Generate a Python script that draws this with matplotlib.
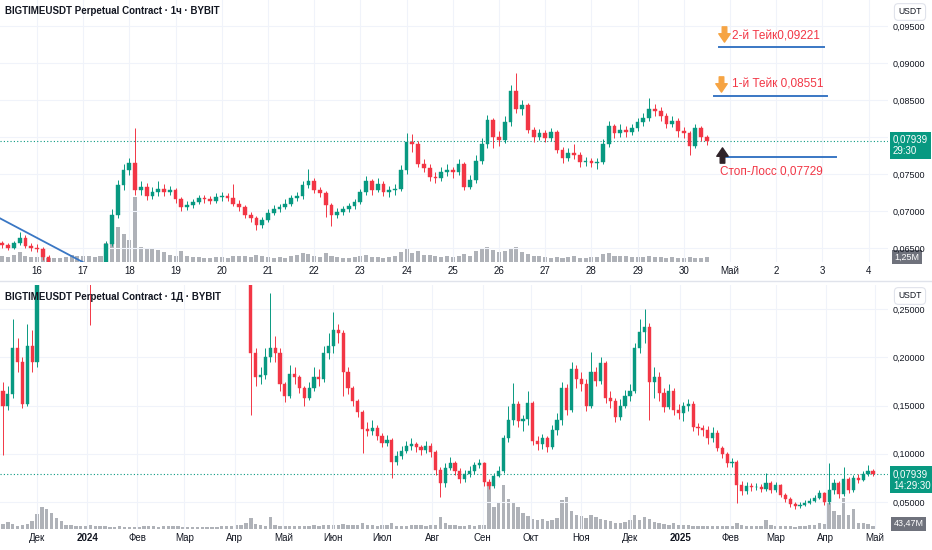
import numpy as np
import matplotlib
matplotlib.use("Agg")
import matplotlib.pyplot as plt
from matplotlib.lines import Line2D
from matplotlib.path import Path

plt.rcParams['font.family'] = ['Liberation Sans', 'DejaVu Sans']

# ---- 1h chart (drawn as 3h candles), 15 Apr 06:00 .. 30 Apr 12:00 ----
top_open0 = 0.0656
top_close = [
    0.0654, 0.0650, 0.0656, 0.0664, 0.0653, 0.0650,
    0.0648, 0.0638, 0.0624, 0.0620, 0.0617, 0.0615, 0.0618, 0.0616,
    0.0614, 0.0617, 0.0619, 0.0622, 0.0655, 0.0695, 0.0735, 0.0755,
    0.0765, 0.0728, 0.0732, 0.0720, 0.0725, 0.0730, 0.0726, 0.0728,
    0.0716, 0.0705, 0.0708, 0.0712, 0.0717, 0.0716, 0.0714, 0.0719,
    0.0720, 0.0718, 0.0710, 0.0705, 0.0695, 0.0690, 0.0681, 0.0688,
    0.0697, 0.0702, 0.0705, 0.0710, 0.0718, 0.0720, 0.0735, 0.0740,
    0.0728, 0.0724, 0.0708, 0.0695, 0.0699, 0.0703, 0.0707, 0.0712,
    0.0725, 0.0740, 0.0728, 0.0737, 0.0726, 0.0728, 0.0730, 0.0755,
    0.0793, 0.0790, 0.0764, 0.0758, 0.0746, 0.0745, 0.0752, 0.0755,
    0.0752, 0.0763, 0.0733, 0.0742, 0.0768, 0.0790, 0.0823, 0.0800,
    0.0796, 0.0820, 0.0862, 0.0838, 0.0843, 0.0810, 0.0800, 0.0805,
    0.0798, 0.0806, 0.0783, 0.0772, 0.0778, 0.0775, 0.0766, 0.0768,
    0.0765, 0.0766, 0.0790, 0.0815, 0.0805, 0.0810, 0.0806, 0.0812,
    0.0820, 0.0825, 0.0838, 0.0835, 0.0828, 0.0818, 0.0822, 0.0808,
    0.0805, 0.0788, 0.0812, 0.0800, 0.07939,
]
top_high = [
    0.0660, 0.0657, 0.0659, 0.0672, 0.0667, 0.0656,
    0.0655, 0.0651, 0.0640, 0.0627, 0.0623, 0.0620, 0.0621, 0.0620,
    0.0619, 0.0620, 0.0622, 0.0626, 0.0660, 0.0702, 0.0742, 0.0764,
    0.0772, 0.0812, 0.0740, 0.0738, 0.0733, 0.0740, 0.0737, 0.0734,
    0.0731, 0.0719, 0.0713, 0.0716, 0.0722, 0.0721, 0.0720, 0.0724,
    0.0726, 0.0724, 0.0737, 0.0715, 0.0708, 0.0699, 0.0693, 0.0692,
    0.0703, 0.0708, 0.0710, 0.0716, 0.0722, 0.0726, 0.0741, 0.0756,
    0.0744, 0.0733, 0.0727, 0.0711, 0.0704, 0.0707, 0.0711, 0.0716,
    0.0730, 0.0747, 0.0743, 0.0744, 0.0741, 0.0734, 0.0736, 0.0762,
    0.0805, 0.0804, 0.0795, 0.0770, 0.0764, 0.0752, 0.0760, 0.0764,
    0.0760, 0.0770, 0.0766, 0.0748, 0.0775, 0.0798, 0.0830, 0.0826,
    0.0808, 0.0828, 0.0870, 0.0886, 0.0850, 0.0846, 0.0814, 0.0811,
    0.0809, 0.0812, 0.0810, 0.0787, 0.0785, 0.0790, 0.0779, 0.0773,
    0.0772, 0.0772, 0.0797, 0.0822, 0.0818, 0.0817, 0.0815, 0.0818,
    0.0826, 0.0832, 0.0853, 0.0845, 0.0840, 0.0832, 0.0828, 0.0825,
    0.0813, 0.0808, 0.0817, 0.0815, 0.0803,
]
top_low = [
    0.0650, 0.0647, 0.0648, 0.0654, 0.0650, 0.0646,
    0.0644, 0.0634, 0.0620, 0.0617, 0.0614, 0.0612, 0.0613, 0.0613,
    0.0611, 0.0612, 0.0615, 0.0617, 0.0620, 0.0652, 0.0690, 0.0728,
    0.0748, 0.0722, 0.0722, 0.0715, 0.0716, 0.0720, 0.0720, 0.0722,
    0.0711, 0.0700, 0.0701, 0.0704, 0.0709, 0.0711, 0.0709, 0.0711,
    0.0714, 0.0713, 0.0706, 0.0700, 0.0690, 0.0685, 0.0674, 0.0677,
    0.0685, 0.0694, 0.0698, 0.0702, 0.0707, 0.0714, 0.0716, 0.0731,
    0.0724, 0.0719, 0.0692, 0.0679, 0.0690, 0.0695, 0.0699, 0.0703,
    0.0709, 0.0721, 0.0722, 0.0725, 0.0720, 0.0719, 0.0722, 0.0727,
    0.0750, 0.0780, 0.0760, 0.0752, 0.0741, 0.0738, 0.0741, 0.0747,
    0.0745, 0.0748, 0.0728, 0.0729, 0.0738, 0.0763, 0.0785, 0.0785,
    0.0788, 0.0792, 0.0815, 0.0832, 0.0830, 0.0805, 0.0793, 0.0796,
    0.0793, 0.0795, 0.0778, 0.0765, 0.0768, 0.0770, 0.0760, 0.0761,
    0.0760, 0.0757, 0.0763, 0.0786, 0.0798, 0.0800, 0.0800, 0.0802,
    0.0808, 0.0815, 0.0822, 0.0828, 0.0822, 0.0812, 0.0814, 0.0800,
    0.0798, 0.0776, 0.0785, 0.0795, 0.0789,
]
top_vol = [
    1.5, 1.2, 1.8, 2.5, 1.6, 1.3,
    1.2, 1.5, 1.0, 0.9, 1.1, 1.2, 1.8, 1.6,
    1.5, 1.4, 1.3, 1.6, 4.7, 9.0, 8.5, 7.0,
    5.5, 16.0, 3.8, 3.5, 3.2, 3.0, 2.4, 1.8,
    1.4, 2.8, 1.5, 1.3, 1.2, 1.0, 1.1, 1.3,
    1.2, 1.0, 1.6, 1.4, 1.5, 1.2, 1.8, 1.4,
    1.2, 1.0, 1.3, 1.1, 1.5, 1.7, 2.2, 2.0,
    1.6, 1.3, 2.3, 1.6, 1.2, 1.1, 1.0, 1.2,
    1.6, 1.8, 1.3, 1.2, 1.0, 1.2, 1.6, 2.4,
    3.2, 2.3, 2.6, 1.8, 1.7, 1.4, 1.3, 1.5,
    1.3, 1.6, 1.9, 1.4, 2.6, 3.3, 3.8, 3.0,
    2.4, 2.8, 3.4, 3.6, 2.4, 2.0, 1.6, 1.4,
    1.2, 1.0, 1.3, 1.1, 1.2, 1.4, 1.0, 1.1,
    1.2, 1.3, 2.0, 2.2, 1.6, 1.4, 1.5, 1.3,
    1.3, 1.2, 1.5, 1.3, 1.2, 1.1, 1.2, 1.1,
    1.0, 1.2, 1.1, 1.0, 1.25,
]
top_day_ticks = list(range(16, 35))
top_day_labels = [str(d) for d in range(16, 31)] + ['Май', '2', '3', '4']

# trade levels and a trendline drawn on the 1h chart
take2, take1, stop = 0.09221, 0.08551, 0.07729
trend_x = [15.2, 17.2]
trend_y = [0.0690, 0.0624]

# ---- 1D chart (drawn as 3-day candles), Nov 2023 .. 30 Apr 2025 ----
bot_open0 = 0.165
bot_close = [
    0.150, 0.162, 0.210, 0.195, 0.152, 0.212, 0.195, 0.300, 0.40, 0.55,
    0.70, 0.75, 0.65, 0.58, 0.52, 0.50, 0.46, 0.42, 0.38, 0.40,
    0.42, 0.44, 0.40, 0.38, 0.36, 0.35, 0.33, 0.34, 0.36, 0.35,
    0.33, 0.34, 0.37, 0.40, 0.42, 0.45, 0.48, 0.46, 0.44, 0.40,
    0.38, 0.36, 0.37, 0.35, 0.33, 0.34, 0.32, 0.31, 0.30, 0.30,
    0.29, 0.205, 0.180, 0.182, 0.200, 0.210, 0.205, 0.172, 0.160, 0.183,
    0.180, 0.168, 0.158, 0.168, 0.180, 0.178, 0.205, 0.212, 0.228, 0.225,
    0.185, 0.168, 0.155, 0.143, 0.126, 0.124, 0.127, 0.118, 0.111, 0.114,
    0.092, 0.098, 0.103, 0.108, 0.110, 0.107, 0.104, 0.108, 0.102, 0.083,
    0.070, 0.085, 0.090, 0.082, 0.074, 0.079, 0.082, 0.088, 0.090, 0.071,
    0.067, 0.077, 0.082, 0.116, 0.135, 0.152, 0.134, 0.136, 0.153, 0.113,
    0.110, 0.116, 0.107, 0.125, 0.135, 0.168, 0.145, 0.188, 0.178, 0.172,
    0.150, 0.185, 0.176, 0.194, 0.158, 0.155, 0.138, 0.150, 0.160, 0.165,
    0.210, 0.226, 0.232, 0.175, 0.180, 0.163, 0.149, 0.165, 0.145, 0.142,
    0.150, 0.152, 0.128, 0.127, 0.125, 0.116, 0.122, 0.106, 0.100, 0.090,
    0.092, 0.068, 0.061, 0.067, 0.066, 0.066, 0.064, 0.070, 0.062, 0.068,
    0.057, 0.053, 0.048, 0.046, 0.047, 0.049, 0.051, 0.054, 0.059, 0.050,
    0.062, 0.070, 0.058, 0.074, 0.062, 0.075, 0.073, 0.079, 0.082, 0.07939,
]
bot_high = [
    0.175, 0.170, 0.240, 0.220, 0.200, 0.235, 0.228, 0.32, 0.58, 0.72,
    0.82, 0.85, 0.76, 0.66, 0.60, 0.55, 0.52, 0.48, 0.44, 0.45,
    0.46, 0.48, 0.46, 0.42, 0.40, 0.38, 0.37, 0.37, 0.39, 0.39,
    0.37, 0.37, 0.40, 0.43, 0.46, 0.49, 0.52, 0.51, 0.48, 0.45,
    0.42, 0.40, 0.40, 0.39, 0.37, 0.37, 0.36, 0.34, 0.33, 0.32,
    0.31, 0.30, 0.21, 0.19, 0.21, 0.267, 0.222, 0.210, 0.175, 0.192,
    0.190, 0.182, 0.170, 0.175, 0.190, 0.188, 0.212, 0.225, 0.247, 0.235,
    0.228, 0.190, 0.170, 0.157, 0.145, 0.133, 0.135, 0.130, 0.122, 0.120,
    0.116, 0.103, 0.108, 0.113, 0.116, 0.112, 0.109, 0.113, 0.111, 0.104,
    0.086, 0.090, 0.097, 0.093, 0.085, 0.083, 0.087, 0.092, 0.095, 0.091,
    0.074, 0.080, 0.087, 0.120, 0.150, 0.173, 0.155, 0.140, 0.165, 0.155,
    0.118, 0.121, 0.118, 0.130, 0.142, 0.175, 0.172, 0.195, 0.192, 0.185,
    0.178, 0.206, 0.190, 0.200, 0.196, 0.165, 0.158, 0.157, 0.166, 0.172,
    0.215, 0.240, 0.250, 0.236, 0.190, 0.185, 0.168, 0.172, 0.168, 0.152,
    0.154, 0.157, 0.155, 0.132, 0.130, 0.129, 0.128, 0.125, 0.108, 0.102,
    0.096, 0.094, 0.072, 0.071, 0.070, 0.070, 0.069, 0.080, 0.072, 0.071,
    0.069, 0.059, 0.055, 0.050, 0.050, 0.052, 0.054, 0.057, 0.062, 0.060,
    0.090, 0.074, 0.072, 0.086, 0.076, 0.078, 0.079, 0.082, 0.088, 0.084,
]
bot_low = [
    0.099, 0.145, 0.158, 0.185, 0.148, 0.150, 0.185, 0.19, 0.30, 0.40,
    0.55, 0.62, 0.58, 0.50, 0.46, 0.44, 0.40, 0.36, 0.234, 0.36,
    0.38, 0.39, 0.36, 0.34, 0.33, 0.32, 0.30, 0.31, 0.32, 0.31,
    0.30, 0.31, 0.33, 0.36, 0.39, 0.41, 0.43, 0.42, 0.39, 0.36,
    0.34, 0.33, 0.34, 0.32, 0.30, 0.31, 0.29, 0.29, 0.285, 0.285,
    0.28, 0.140, 0.170, 0.172, 0.178, 0.195, 0.195, 0.165, 0.154, 0.158,
    0.172, 0.163, 0.150, 0.156, 0.165, 0.170, 0.175, 0.198, 0.205, 0.215,
    0.160, 0.162, 0.150, 0.138, 0.101, 0.118, 0.120, 0.114, 0.107, 0.108,
    0.075, 0.088, 0.095, 0.101, 0.104, 0.102, 0.099, 0.101, 0.097, 0.078,
    0.055, 0.066, 0.083, 0.078, 0.070, 0.071, 0.076, 0.079, 0.085, 0.067,
    0.064, 0.065, 0.076, 0.080, 0.112, 0.130, 0.128, 0.124, 0.130, 0.109,
    0.104, 0.105, 0.102, 0.105, 0.119, 0.130, 0.140, 0.143, 0.168, 0.165,
    0.144, 0.148, 0.170, 0.172, 0.153, 0.148, 0.133, 0.135, 0.147, 0.155,
    0.163, 0.205, 0.215, 0.135, 0.158, 0.155, 0.143, 0.146, 0.140, 0.136,
    0.134, 0.144, 0.124, 0.120, 0.118, 0.110, 0.112, 0.103, 0.096, 0.086,
    0.086, 0.049, 0.057, 0.058, 0.061, 0.062, 0.060, 0.061, 0.059, 0.060,
    0.055, 0.050, 0.045, 0.043, 0.044, 0.046, 0.048, 0.050, 0.053, 0.047,
    0.048, 0.058, 0.054, 0.056, 0.059, 0.060, 0.070, 0.072, 0.077, 0.077,
]
bot_vol = [
    70, 100, 70, 45, 55, 70, 110, 210, 300, 280,
    220, 150, 110, 60, 50, 45, 40, 40, 55, 45,
    40, 35, 30, 30, 35, 25, 25, 30, 25, 45,
    40, 35, 30, 35, 45, 40, 35, 30, 30, 28,
    25, 28, 30, 30, 28, 35, 40, 45, 50, 60,
    90, 150, 70, 50, 40, 170, 50, 40, 45, 35,
    40, 35, 45, 40, 50, 45, 50, 55, 60, 50,
    70, 55, 60, 50, 80, 55, 50, 45, 60, 50,
    80, 45, 40, 45, 50, 55, 50, 45, 60, 55,
    170, 80, 60, 50, 45, 40, 50, 45, 55, 60,
    640, 300, 380, 620, 420, 380, 300, 220, 180, 140,
    120, 140, 110, 130, 160, 400, 450, 250, 200, 180,
    150, 200, 170, 140, 120, 110, 90, 80, 100, 120,
    200, 130, 170, 140, 100, 80, 70, 60, 80, 60,
    50, 55, 45, 40, 45, 40, 35, 35, 40, 40,
    45, 80, 50, 40, 45, 40, 35, 120, 50, 40,
    35, 40, 35, 30, 40, 45, 50, 60, 80, 70,
    360, 250, 200, 430, 200, 280, 90, 80, 70, 43.47,
]
# days counted from 1 Dec 2023
bot_month_ticks = [0, 31, 62, 91, 122, 152, 183, 213, 244, 275, 305, 336,
                   366, 397, 428, 456, 487, 517]
bot_month_labels = ['Дек', '2024', 'Фев', 'Мар', 'Апр', 'Май', 'Июн', 'Июл',
                    'Авг', 'Сен', 'Окт', 'Ноя', 'Дек', '2025', 'Фев', 'Мар',
                    'Апр', 'Май']

last_price = 0.07939

GREEN = '#089981'
RED = '#f23645'
TXT = '#131722'
GRID = '#f0f3fa'
VOLC = '#9598a1'

W, H = 932, 550


def fx(px):
    return px / W


def fy(py):
    return 1 - py / H


def price_fmt(v):
    return f"{v:.5f}".replace('.', ',')


def draw_candles(ax, x, o, hi, lo, c, w):
    cols = np.where(c >= o, GREEN, RED)
    ax.vlines(x, lo, hi, colors=cols, lw=0.7, zorder=3)
    ax.bar(x, np.abs(c - o), width=w, bottom=np.minimum(o, c), color=cols,
           edgecolor=cols, lw=0.3, zorder=4)


def style_axes(ax):
    for s in ax.spines.values():
        s.set_visible(False)
    ax.yaxis.tick_right()
    ax.tick_params(axis='y', length=0, pad=3.5, labelsize=6.5, labelcolor=TXT)
    ax.tick_params(axis='x', length=0, pad=3, labelsize=7, labelcolor=TXT)
    ax.grid(True, color=GRID, lw=0.8)
    ax.set_axisbelow(True)
    ax.patch.set_visible(False)


fig = plt.figure(figsize=(W / 100, H / 100), dpi=100)
fig.patch.set_facecolor('white')

# ================= top panel =================
rect_top = [0, fy(262), fx(888), 262 / H]
vax1 = fig.add_axes(rect_top)
ax1 = fig.add_axes(rect_top)

tc = np.array(top_close)
to = np.concatenate([[top_open0], tc[:-1]])
tx = 15.25 + 0.125 * np.arange(len(tc))

vax1.bar(tx, top_vol, width=0.125 * 0.7, color=VOLC, alpha=0.75)
vax1.set_xlim(15.2, 34.42)
vax1.set_ylim(0, 64.5)
vax1.axis('off')

draw_candles(ax1, tx, to, np.array(top_high), np.array(top_low), tc, 0.125 * 0.65)
ax1.set_xlim(15.2, 34.42)
ax1.set_ylim(0.0631, 0.0985)
style_axes(ax1)
yt = np.arange(0.065, 0.0951, 0.005)
ax1.set_yticks(yt)
# the 0,08000 label sits under the live price tag
ax1.set_yticklabels(['' if abs(v - 0.08) < 1e-9 else price_fmt(v) for v in yt])
ax1.set_xticks(top_day_ticks)
ax1.set_xticklabels(top_day_labels)

ax1.plot(trend_x, trend_y, color='#3a77c4', lw=1.3, zorder=5)
ax1.axhline(last_price, color=GREEN, lw=0.8, ls=(0, (1, 2)), zorder=2)

# trade levels
lvl_col = '#3a77c4'
ax1.plot([30.77, 33.04], [take2, take2], color=lvl_col, lw=1.4, zorder=5)
ax1.plot([30.65, 33.10], [take1, take1], color=lvl_col, lw=1.4, zorder=5)
ax1.plot([30.90, 33.29], [stop, stop], color=lvl_col, lw=1.4, zorder=5)

down_arrow = Path([(-0.3, 1), (0.3, 1), (0.3, 0.1), (0.75, 0.1), (0, -1),
                   (-0.75, 0.1), (-0.3, 0.1), (-0.3, 1)], closed=True)
up_arrow = Path([(-0.3, -1), (0.3, -1), (0.3, -0.1), (0.75, -0.1), (0, 1),
                 (-0.75, -0.1), (-0.3, -0.1), (-0.3, -1)], closed=True)
ax1.plot([30.87], [take2 + 0.0017], marker=down_arrow, ms=11, color='#f6a443',
         mec='#f6a443', zorder=6, clip_on=False)
ax1.plot([30.81], [take1 + 0.0016], marker=down_arrow, ms=11, color='#f6a443',
         mec='#f6a443', zorder=6, clip_on=False)
ax1.plot([30.82], [stop + 0.0003], marker=up_arrow, ms=11, color='#2e2228',
         mec='#2e2228', zorder=6, clip_on=False)

ax1.text(31.04, take2 + 0.0013, '2-й Тейк' + price_fmt(take2), color=RED,
         fontsize=8.5, va='center', ha='left', zorder=6)
ax1.text(31.04, take1 + 0.0016, '1-й Тейк ' + price_fmt(take1), color=RED,
         fontsize=8.5, va='center', ha='left', zorder=6)
ax1.text(30.78, stop - 0.0020, 'Стоп-Лосс ' + price_fmt(stop), color=RED,
         fontsize=8.5, va='center', ha='left', zorder=6)

ax1.annotate(price_fmt(last_price) + '\n29:30', xy=(1, last_price),
             xycoords=ax1.get_yaxis_transform(), xytext=(3.6, -2.8),
             textcoords='offset points', ha='left', va='center', fontsize=7,
             color='white', linespacing=1.15, annotation_clip=False, zorder=10,
             bbox=dict(boxstyle='square,pad=0.3', fc=GREEN, ec='none'))
vax1.annotate('1,25M', xy=(1, top_vol[-1]), xycoords=vax1.get_yaxis_transform(),
              xytext=(4.5, 0), textcoords='offset points', ha='left', va='center',
              fontsize=6.5, color='white', annotation_clip=False, zorder=10,
              bbox=dict(boxstyle='square,pad=0.25', fc='#6f727c', ec='none'))

# ================= bottom panel =================
rect_bot = [0, fy(529), fx(888), (529 - 285) / H]
vax2 = fig.add_axes(rect_bot)
ax2 = fig.add_axes(rect_bot)

bc = np.array(bot_close)
bo = np.concatenate([[bot_open0], bc[:-1]])
bx = -21 + 3 * np.arange(len(bc))

vax2.bar(bx, bot_vol, width=3 * 0.7, color=VOLC, alpha=0.75)
vax2.set_xlim(-22.84, 525.3)
vax2.set_ylim(0, 3400)
vax2.axis('off')

draw_candles(ax2, bx, bo, np.array(bot_high), np.array(bot_low), bc, 3 * 0.65)
ax2.set_xlim(-22.84, 525.3)
ax2.set_ylim(0.0220, 0.2751)
style_axes(ax2)
yt2 = np.arange(0.05, 0.251, 0.05)
ax2.set_yticks(yt2)
ax2.set_yticklabels([price_fmt(v) for v in yt2])
ax2.set_xticks(bot_month_ticks)
ax2.set_xticklabels(bot_month_labels)
for lab in ax2.get_xticklabels():
    if lab.get_text() in ('2024', '2025'):
        lab.set_fontweight('bold')

ax2.axhline(last_price, color=GREEN, lw=0.8, ls=(0, (1, 2)), zorder=2)
ax2.annotate(price_fmt(last_price) + '\n14:29:30', xy=(1, last_price),
             xycoords=ax2.get_yaxis_transform(), xytext=(3.6, -4.5),
             textcoords='offset points', ha='left', va='center', fontsize=7,
             color='white', linespacing=1.15, annotation_clip=False, zorder=10,
             bbox=dict(boxstyle='square,pad=0.3', fc=GREEN, ec='none'))
vax2.annotate('43,47M', xy=(1, bot_vol[-1]), xycoords=vax2.get_yaxis_transform(),
              xytext=(4.0, 1.5), textcoords='offset points', ha='left',
              va='center', fontsize=6.5, color='white', annotation_clip=False,
              zorder=10,
              bbox=dict(boxstyle='square,pad=0.25', fc='#6f727c', ec='none'))

# ================= chrome =================
title_font = ['Liberation Sans Narrow', 'Liberation Sans', 'DejaVu Sans']
fig.text(fx(5), fy(11), 'BIGTIMEUSDT Perpetual Contract · 1ч · BYBIT',
         fontsize=7, fontweight='bold', color=TXT, va='center', ha='left',
         family=title_font)
fig.text(fx(5), fy(297), 'BIGTIMEUSDT Perpetual Contract · 1Д · BYBIT',
         fontsize=7, fontweight='bold', color=TXT, va='center', ha='left',
         family=title_font)
for yy in (12, 296):
    fig.text(fx(910), fy(yy), 'USDT', fontsize=6.2, color=TXT, ha='center',
             va='center', bbox=dict(boxstyle='round,pad=0.45', fc='white',
                                    ec='#e0e3eb', lw=0.8))
fig.add_artist(Line2D([0, 1], [fy(281), fy(281)], color='#e0e3eb', lw=1.0))

fig.savefig('out.png', dpi=100, facecolor='white')
